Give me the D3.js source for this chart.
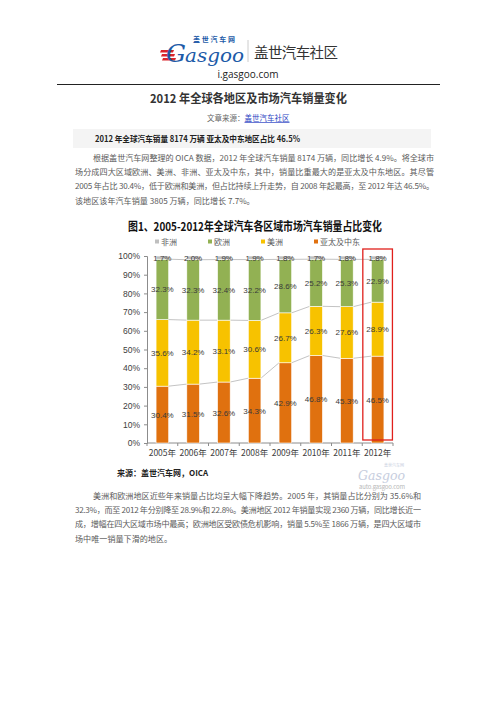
<!DOCTYPE html>
<html>
<head>
<meta charset="utf-8">
<script src="https://cdn.jsdelivr.net/npm/d3@7"></script>
<style>
  body { margin: 0; background: #fff; }
  svg { display: block; }
  text { font-family: "Noto Sans CJK SC", "Noto Sans", sans-serif; }
</style>
</head>
<body>
<div id="drawing-area" style="width:496px;height:702px"></div>
<script>

// chart data (percent of world sales)
var years = ["2005年", "2006年", "2007年", "2008年", "2009年", "2010年", "2011年", "2012年"];
var africa   = [1.7, 2.0, 1.9, 1.9, 1.8, 1.7, 1.8, 1.8];
var europe   = [32.3, 32.3, 32.4, 32.2, 28.6, 25.2, 25.3, 22.9];
var americas = [35.6, 34.2, 33.1, 30.6, 26.7, 26.3, 27.6, 28.9];
var asiaME   = [30.4, 31.5, 32.6, 34.3, 42.9, 46.8, 45.3, 46.5];
var seriesKeys  = ["africa", "europe", "americas", "asia"];
var seriesNames = ["非洲", "欧洲", "美洲", "亚太及中东"];
var yTicks = [0, 0.1, 0.2, 0.3, 0.4, 0.5, 0.6, 0.7, 0.8, 0.9, 1];
var highlightYear = "2012年";

// article text
var pageTitle = "2012 年全球各地区及市场汽车销量变化";
var subHead = "2012 年全球汽车销量 8174 万辆  亚太及中东地区占比 46.5%";
var chartTitle = "图1、2005-2012年全球汽车各区域市场汽车销量占比变化";
var para1 = [
    "根据盖世汽车网整理的 OICA 数据，2012 年全球汽车销量 8174 万辆，同比增长 4.9%。将全球市",
    "场分成四大区域欧洲、美洲、非洲、亚太及中东，其中，销量比重最大的是亚太及中东地区。其尽管",
    "2005 年占比 30.4%，低于欧洲和美洲，但占比持续上升走势，自 2008 年起最高，至 2012 年达 46.5%。",
    "该地区该年汽车销量 3805 万辆，同比增长 7.7%。"
];
var para2 = [
    "美洲和欧洲地区近些年来销量占比均呈大幅下降趋势。2005 年，其销量占比分别为 35.6%和",
    "32.3%，而至 2012 年分别降至 28.9%和 22.8%。美洲地区 2012 年销量实现 2360 万辆，同比增长近一",
    "成，增幅在四大区域市场中最高；欧洲地区受欧债危机影响，销量 5.5%至 1866 万辆，是四大区域市",
    "场中唯一销量下滑的地区。"
];

var colors = { africa: "#bfbfbf", europe: "#92b153", americas: "#f7c200", asia: "#e0710f" };

var sx = 496, sy = 702;
var svg = d3.select('#drawing-area').append('svg').attr('width', sx).attr('height', sy);

// ---- header / logo
var logo = svg.append("g");
[0, 1, 2].forEach(function (k) {
    logo.append("path")
        .attr("d", "M" + (161 + k * 1) + " " + (50 + k * 4) + " l13 0 l-1 2.4 l-13 0 z")
        .attr("fill", "#d9262b");
});
logo.append("text").attr("x", 166).attr("y", 62)
    .style("font-family", "'DejaVu Serif', serif").style("font-style", "italic")
    .style("font-size", "25px").attr("fill", "#1d5ba8").text("G");
logo.append("text").attr("x", 185).attr("y", 62)
    .attr("textLength", 59).attr("lengthAdjust", "spacingAndGlyphs")
    .style("font-family", "'DejaVu Serif', serif").style("font-style", "italic")
    .style("font-size", "19px").attr("fill", "#1d5ba8").text("asgoo");
logo.append("text").attr("x", 193).attr("y", 41.5)
    .attr("textLength", 42).style("font-size", "7px").style("font-weight", "bold")
    .attr("fill", "#1d5ba8").text("盖世汽车网");
logo.append("line").attr("x1", 248).attr("x2", 248).attr("y1", 40).attr("y2", 62)
    .attr("stroke", "#ccc");
logo.append("text").attr("x", 254).attr("y", 58)
    .attr("textLength", 84).style("font-size", "14.5px").attr("fill", "#333").text("盖世汽车社区");
svg.append("text").attr("x", 248).attr("y", 78).attr("text-anchor", "middle")
    .style("font-family", "'Open Sans', sans-serif").style("font-size", "10px")
    .attr("fill", "#222").text("i.gasgoo.com");
svg.append("line").attr("x1", 57).attr("x2", 440).attr("y1", 84.5).attr("y2", 84.5)
    .attr("stroke", "#222").attr("stroke-width", 1);

// ---- article title + source
svg.append("text").attr("x", 150).attr("y", 103)
    .attr("textLength", 197).attr("lengthAdjust", "spacingAndGlyphs")
    .style("font-size", "12px").style("font-weight", "bold").attr("fill", "#333")
    .text(pageTitle);
var src1 = svg.append("text").attr("x", 207).attr("y", 121)
    .style("font-size", "7.5px").attr("fill", "#666").text("文章来源：");
var w1 = src1.node().getComputedTextLength();
var src2 = svg.append("text").attr("x", 207 + w1).attr("y", 121)
    .style("font-size", "7.5px").attr("fill", "#2a3fc2").text("盖世汽车社区");
var w2 = src2.node().getComputedTextLength();
svg.append("line").attr("x1", 207 + w1).attr("x2", 207 + w1 + w2).attr("y1", 122.5).attr("y2", 122.5)
    .attr("stroke", "#2a3fc2").attr("stroke-width", 0.7);

// sub heading band
svg.append("rect").attr("x", 73).attr("y", 129).attr("width", 358).attr("height", 19)
    .attr("fill", "#f4f4f4");
svg.append("text").attr("x", 95).attr("y", 141.5)
    .attr("textLength", 205).attr("lengthAdjust", "spacingAndGlyphs")
    .style("font-size", "8.5px").style("font-weight", "bold").attr("fill", "#222")
    .text(subHead);

function paragraph(lines, y0, right) {
    lines.forEach(function (s, i) {
        var x0 = i == 0 ? 93 : 75;
        var t = svg.append("text").attr("x", x0).attr("y", y0 + i * 14.2)
            .style("font-size", "8.1px").attr("fill", "#5a5a5a").text(s);
        if (i < lines.length - 1)
            t.attr("textLength", right - x0).attr("lengthAdjust", "spacing");
    });
}
paragraph(para1, 161, 434);
paragraph(para2, 499, 421);

// ---- chart
var rows = years.map(function (yr, i) {
    return { year: yr, africa: africa[i], europe: europe[i], americas: americas[i], asia: asiaME[i] };
});
var stack = d3.stack().keys(["asia", "americas", "europe", "africa"]).offset(d3.stackOffsetExpand);
var layers = stack(rows);

var x = d3.scaleBand().domain(years).range([147, 393]).paddingInner(0.59).paddingOuter(0.295);
var y = d3.scaleLinear().domain([0, 1]).range([443, 256]);

var chart = svg.append("g");

chart.append("text").attr("x", 128).attr("y", 231)
    .attr("textLength", 254).attr("lengthAdjust", "spacingAndGlyphs")
    .style("font-size", "12px").style("font-weight", "bold").attr("fill", "#111")
    .text(chartTitle);

// legend
var lg = chart.append("g").selectAll("g").data(seriesKeys).join("g")
    .attr("transform", function (d, i) { return "translate(" + (155 + i * 53) + ",242)"; });
lg.append("rect").attr("x", 0).attr("y", -2.5).attr("width", 4).attr("height", 4)
    .attr("fill", function (d) { return colors[d]; });
lg.append("text").attr("x", 6).attr("y", 3)
    .style("font-size", "8px").attr("fill", "#595959")
    .text(function (d, i) { return seriesNames[i]; });

// y axis
var yAxis = chart.append("g").attr("transform", "translate(147,0)")
    .call(d3.axisLeft(y).tickValues(yTicks).tickFormat(d3.format(".0%")).tickSize(3).tickPadding(4));
yAxis.select(".domain").attr("stroke", "#8c8c8c");
yAxis.selectAll(".tick line").attr("stroke", "#8c8c8c");
yAxis.selectAll(".tick text").style("font-size", "8.5px").style("font-family", "'Liberation Sans', Arial, sans-serif")
    .attr("fill", "#404040");

// x axis
var xAxis = chart.append("g").attr("transform", "translate(0,443)")
    .call(d3.axisBottom(x).tickSize(0).tickPadding(7));
xAxis.select(".domain").attr("stroke", "#8c8c8c").attr("d", "M147,0H393");
xAxis.selectAll(".tick text").style("font-size", "8.5px").attr("fill", "#404040");
chart.append("g").selectAll("line").data(d3.range(years.length + 1)).join("line")
    .attr("x1", function (i) { return 147 + i * x.step(); })
    .attr("x2", function (i) { return 147 + i * x.step(); })
    .attr("y1", 443).attr("y2", 446).attr("stroke", "#8c8c8c");

// series lines between bars
var bw = x.bandwidth();
layers.slice(0, 3).forEach(function (layer) {
    for (var j = 0; j < layer.length - 1; j++) {
        chart.append("line")
            .attr("x1", x(years[j]) + bw).attr("y1", y(layer[j][1]))
            .attr("x2", x(years[j + 1])).attr("y2", y(layer[j + 1][1]))
            .attr("stroke", "#b4b4b4").attr("stroke-width", 0.8);
    }
});

// bars
layers.forEach(function (layer) {
    chart.append("g").selectAll("rect").data(layer).join("rect")
        .attr("x", function (d) { return x(d.data.year); })
        .attr("width", bw)
        .attr("y", function (d) { return y(d[1]); })
        .attr("height", function (d) { return y(d[0]) - y(d[1]); })
        .attr("fill", colors[layer.key])
        .attr("stroke", "#fff").attr("stroke-width", 0.6);
});

// value labels
layers.forEach(function (layer) {
    chart.append("g").selectAll("text").data(layer).join("text")
        .attr("x", function (d) { return x(d.data.year) + bw / 2; })
        .attr("y", function (d) { return y((d[0] + d[1]) / 2) + 3; })
        .attr("text-anchor", "middle")
        .style("font-size", "8px").style("font-family", "'Liberation Sans', Arial, sans-serif")
        .attr("fill", "#3a3a3a")
        .text(function (d) { return d.data[layer.key].toFixed(1) + "%"; });
});

// highlight box round the last year
chart.append("rect")
    .attr("x", x(highlightYear) - 8.5).attr("y", 249)
    .attr("width", bw + 17).attr("height", 191)
    .attr("fill", "none").attr("stroke", "#e0201c").attr("stroke-width", 1.3);

// chart source + watermark
chart.append("text").attr("x", 117).attr("y", 476)
    .style("font-size", "8px").style("font-weight", "bold").attr("fill", "#222")
    .text("来源：盖世汽车网，OICA");
chart.append("text").attr("x", 384).attr("y", 467)
    .style("font-size", "4px").attr("fill", "#c7cede").text("盖世汽车网");
chart.append("text").attr("x", 358).attr("y", 480)
    .attr("textLength", 47).attr("lengthAdjust", "spacingAndGlyphs")
    .style("font-family", "'DejaVu Serif', serif").style("font-style", "italic")
    .style("font-size", "12px").attr("fill", "#c7cede").text("Gasgoo");
chart.append("text").attr("x", 359).attr("y", 489)
    .attr("textLength", 46)
    .style("font-size", "6px").attr("fill", "#b8b8b8").text("auto.gasgoo.com");

</script>
</body>
</html>
